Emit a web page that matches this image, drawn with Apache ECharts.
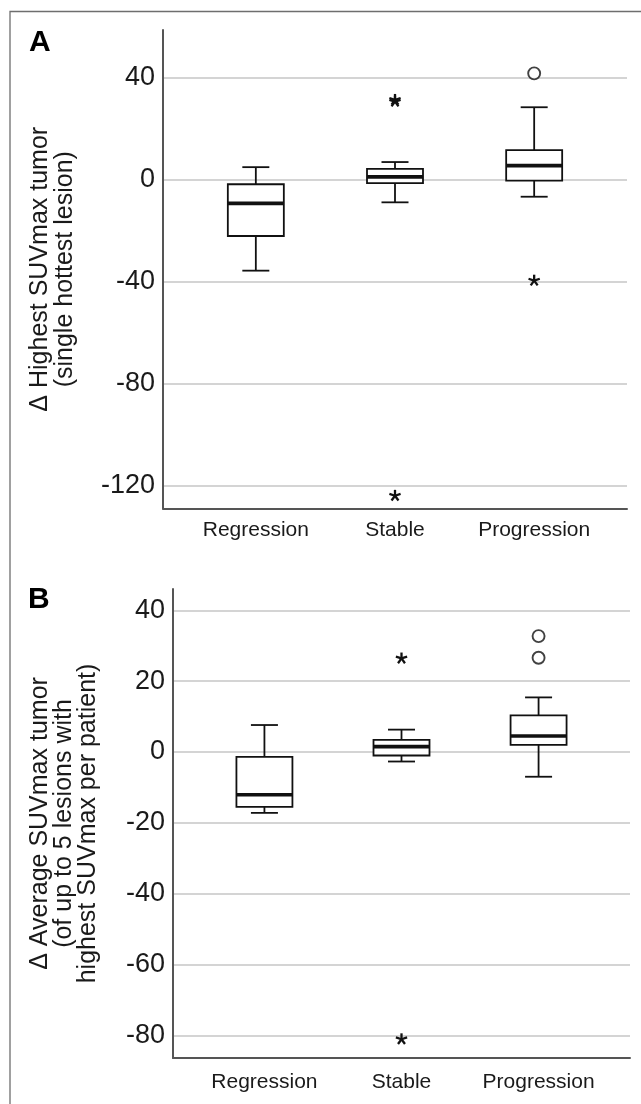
<!DOCTYPE html>
<html><head><meta charset="utf-8">
<script src="https://cdn.jsdelivr.net/npm/echarts@6/dist/echarts.min.js"></script>
<style>html,body{margin:0;padding:0;background:#fff}#c{width:641px;height:1104px}</style>
</head><body><div id="c"></div>
<script>
// ---- data ----
const categories = ['Regression', 'Stable', 'Progression'];

// Panel A: Δ Highest SUVmax tumor (single hottest lesion)
const aWhiskerLow  = [-35.7, -8.9, -6.7];
const aQ1          = [-22.1, -1.4, -0.4];
const aMedian      = [-9.3, 1.1, 5.5];
const aQ3          = [-1.8, 4.2, 11.6];
const aWhiskerHigh = [4.9, 6.9, 28.4];
const aCircles     = [[2, 41.7]];
const aStars       = [[1, 30.6], [1, 31.3], [1, -124.0], [2, -39.6]];
const aTicks       = [40, 0, -40, -80, -120];

// Panel B: Δ Average SUVmax tumor (of up to 5 lesions with highest SUVmax per patient)
const bWhiskerLow  = [-17.2, -2.7, -7.0];
const bQ1          = [-15.5, -1.0, 2.0];
const bMedian      = [-12.1, 1.5, 4.5];
const bQ3          = [-1.4, 3.4, 10.3];
const bWhiskerHigh = [7.6, 6.3, 15.4];
const bCircles     = [[2, 32.7], [2, 26.6]];
const bStars       = [[1, 26.4], [1, -81.1]];
const bTicks       = [40, 20, 0, -20, -40, -60, -80];

// ---- build ----
function boxData(lo, q1, med, q3, hi) {
  return categories.map((c, i) => [i, lo[i], q1[i], med[i], q3[i], hi[i]]);
}
const INK = '#111';
function boxRender(params, api) {
  const x = api.value(0);
  const pLo = api.coord([x, api.value(1)]);
  const pQ1 = api.coord([x, api.value(2)]);
  const pMed = api.coord([x, api.value(3)]);
  const pQ3 = api.coord([x, api.value(4)]);
  const pHi = api.coord([x, api.value(5)]);
  const cx = pLo[0], hw = 28, cw = 13.5;
  const ls = { stroke: INK, lineWidth: 1.8 };
  return { type: 'group', children: [
    { type: 'line', shape: { x1: cx, y1: pQ3[1], x2: cx, y2: pHi[1] }, style: ls },
    { type: 'line', shape: { x1: cx - cw, y1: pHi[1], x2: cx + cw, y2: pHi[1] }, style: ls },
    { type: 'line', shape: { x1: cx, y1: pQ1[1], x2: cx, y2: pLo[1] }, style: ls },
    { type: 'line', shape: { x1: cx - cw, y1: pLo[1], x2: cx + cw, y2: pLo[1] }, style: ls },
    { type: 'rect', shape: { x: cx - hw, y: pQ3[1], width: 2 * hw, height: pQ1[1] - pQ3[1] },
      style: { fill: '#fff', stroke: INK, lineWidth: 1.8 } },
    { type: 'line', shape: { x1: cx - hw, y1: pMed[1], x2: cx + hw, y2: pMed[1] },
      style: { stroke: INK, lineWidth: 3.6 } }
  ]};
}
function starRender(params, api) {
  const p = api.coord([api.value(0), api.value(1)]);
  const r = 5.9, children = [];
  for (let k = 0; k < 5; k++) {
    const a = (-90 + 72 * k) * Math.PI / 180;
    children.push({ type: 'line', shape: { x1: p[0], y1: p[1], x2: p[0] + r * Math.cos(a), y2: p[1] + r * Math.sin(a) },
      style: { stroke: INK, lineWidth: 2.3 } });
  }
  return { type: 'group', children };
}

const FONT = "'Liberation Sans', Arial, Helvetica, sans-serif";
function xAxisDef(gi, margin) {
  return {
    gridIndex: gi, type: 'value', min: -0.667, max: 2.667,
    axisLine: { show: true, onZero: false, lineStyle: { color: '#555', width: 2 } },
    axisTick: { show: false, customValues: [0, 1, 2] },
    splitLine: { show: false },
    axisLabel: { customValues: [0, 1, 2], formatter: v => categories[Math.round(v)] || '',
      color: '#1a1a1a', fontSize: 21, fontFamily: FONT, margin }
  };
}
function yAxisDef(gi, min, max, ticks, name, gap, lh) {
  return {
    gridIndex: gi, type: 'value', min, max,
    axisLine: { show: true, onZero: false, lineStyle: { color: '#555', width: 2 } },
    axisTick: { show: false, customValues: ticks },
    splitLine: { show: true, lineStyle: { color: '#c6c6c6', width: 1.6 } },
    axisLabel: { customValues: ticks, color: '#1a1a1a', fontSize: 27, fontFamily: FONT, margin: 8 },
    name, nameLocation: 'middle', nameRotate: 90, nameGap: gap,
    nameTextStyle: { color: '#1a1a1a', fontSize: 25, lineHeight: lh, fontFamily: FONT }
  };
}

const option = {
  backgroundColor: '#fff',
  animation: false,
  grid: [
    { left: 163, top: 30, width: 464, height: 478.5 },
    { left: 173, top: 589, width: 457, height: 469 }
  ],
  xAxis: [xAxisDef(0, 11), xAxisDef(1, 14)],
  yAxis: [
    yAxisDef(0, -129, 58.7, aTicks, 'Δ Highest SUVmax tumor\n(single hottest lesion)', 85, 25),
    yAxisDef(1, -86.4, 46, bTicks, 'Δ Average SUVmax tumor\n(of up to 5 lesions with\nhighest SUVmax per patient)', 73, 24)
  ],
  graphic: [
    { type: 'rect', shape: { x: 10, y: 11.5, width: 800, height: 1200 }, style: { fill: 'none', stroke: '#6e6e6e', lineWidth: 1.3 }, silent: true },
    { type: 'text', left: 29, top: 28, style: { text: 'A', font: "bold 30px 'Liberation Sans', Arial", fill: '#000' } },
    { type: 'text', left: 28, top: 585, style: { text: 'B', font: "bold 30px 'Liberation Sans', Arial", fill: '#000' } }
  ],
  series: [
    { type: 'custom', xAxisIndex: 0, yAxisIndex: 0, renderItem: boxRender,
      data: boxData(aWhiskerLow, aQ1, aMedian, aQ3, aWhiskerHigh), z: 3 },
    { type: 'scatter', xAxisIndex: 0, yAxisIndex: 0, data: aCircles, symbol: 'circle', symbolSize: 12,
      itemStyle: { color: '#fff', borderColor: INK, borderWidth: 1.9 }, z: 4 },
    { type: 'custom', xAxisIndex: 0, yAxisIndex: 0, renderItem: starRender, data: aStars, z: 4 },
    { type: 'custom', xAxisIndex: 1, yAxisIndex: 1, renderItem: boxRender,
      data: boxData(bWhiskerLow, bQ1, bMedian, bQ3, bWhiskerHigh), z: 3 },
    { type: 'scatter', xAxisIndex: 1, yAxisIndex: 1, data: bCircles, symbol: 'circle', symbolSize: 12,
      itemStyle: { color: '#fff', borderColor: INK, borderWidth: 1.9 }, z: 4 },
    { type: 'custom', xAxisIndex: 1, yAxisIndex: 1, renderItem: starRender, data: bStars, z: 4 }
  ]
};
const chart = echarts.init(document.getElementById('c'), null, { renderer: 'canvas' });
chart.setOption(option);
</script></body></html>
